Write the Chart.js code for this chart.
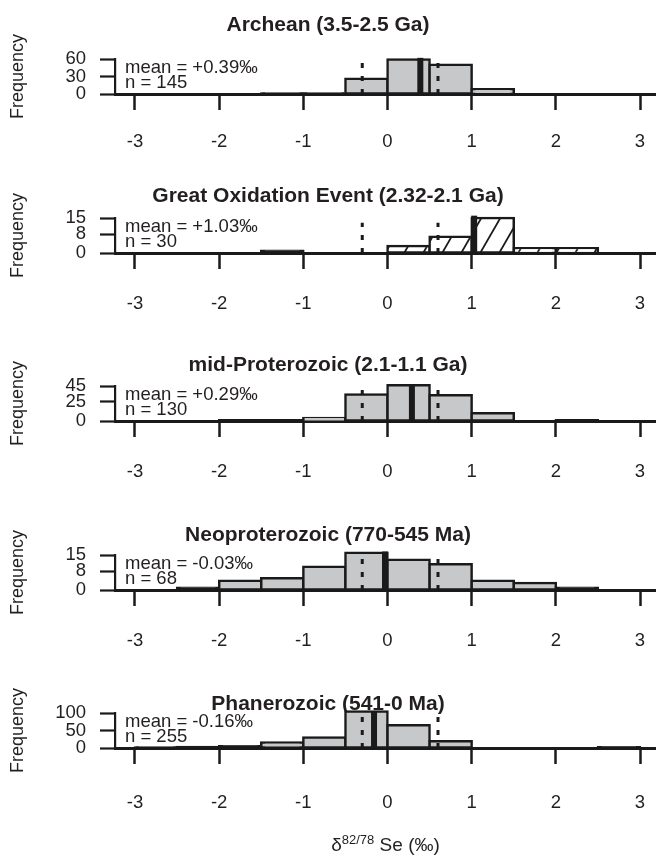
<!DOCTYPE html>
<html>
<head>
<meta charset="utf-8">
<script src="https://cdn.jsdelivr.net/npm/chart.js@4.4.0/dist/chart.umd.min.js"></script>
<style>
  body { margin: 0; background: #fff; }
  #wrap { position: relative; width: 656px; height: 861px; overflow: hidden; background: #fff; }
  #wrap canvas { position: absolute; left: 0; }
  #xlab { position: absolute; left: 115px; width: 541px; top: 832px; text-align: center;
          font: 19px "Liberation Sans", Arial, sans-serif; color: #231f20; }
  #xlab sup { font-size: 13px; }
</style>
</head>
<body>
<div id="wrap">
  <canvas id="c0"></canvas>
  <canvas id="c1"></canvas>
  <canvas id="c2"></canvas>
  <canvas id="c3"></canvas>
  <canvas id="c4"></canvas>
  <div id="xlab">δ<sup>82/78</sup> Se (‰)</div>
</div>
<script>
// histogram bins (left edges, width 0.5)
var binStarts = [-3.5, -3, -2.5, -2, -1.5, -1, -0.5, 0, 0.5, 1, 1.5, 2, 2.5, 3];
var xTickLabels = [-3, -2, -1, 0, 1, 2, 3];

var titles = ['Archean (3.5-2.5 Ga)', 'Great Oxidation Event (2.32-2.1 Ga)',
              'mid-Proterozoic (2.1-1.1 Ga)', 'Neoproterozoic (770-545 Ma)', 'Phanerozoic (541-0 Ma)'];

var archeanCounts   = [0, 0, 0, 0, 1, 1, 26, 59, 50, 8, 0, 0, 0, 0];
var goeCounts       = [0, 0, 0, 0, 1, 0, 0, 3, 7, 15, 2, 2, 0, 0];
var midProtCounts   = [0, 0, 0, 1, 1, 4, 34, 46, 33, 10, 0, 1, 0, 0];
var neoProtCounts   = [0, 0, 1, 4, 5, 10, 16, 13, 11, 4, 3, 1, 0, 0];
var phanerozCounts  = [0, 1, 3, 5, 16, 30, 104, 65, 19, 0, 0, 0, 2, 0];
var allCounts = [archeanCounts, goeCounts, midProtCounts, neoProtCounts, phanerozCounts];

var means = [0.39, 1.03, 0.29, -0.03, -0.16];
var sampleSizes = [145, 30, 130, 68, 255];
var yMidTicks = [30, 8, 25, 8, 50];
var yTopTicks = [60, 15, 45, 15, 100];
var meanLineTops = [62, 16, 47, 16.5, 105];

// dotted reference lines
var refLines = [-0.3, 0.6];
var refLineTops = [53, 13, 40, 13.5, 90];

// page layout (pixels)
var baselines = [94, 253, 421, 590, 748];
var titleGaps = [69, 57, 56, 55, 44];
var labelPads = [21, 24, 24, 24, 28];

var FONT = '"Liberation Sans", Arial, Helvetica, sans-serif';
var INK = '#1a1a1a';
var TXT = '#231f20';
var GREY = '#c7c8ca';

Chart.defaults.font.family = FONT;
Chart.defaults.color = TXT;

function hatchPattern() {
    var w = 19, h = 33;
    var c = document.createElement('canvas');
    c.width = w; c.height = h;
    var g = c.getContext('2d');
    g.fillStyle = '#fff';
    g.fillRect(0, 0, w, h);
    g.strokeStyle = INK;
    g.lineWidth = 1.8;
    [-w, 0, w].forEach(function (s) {
        g.beginPath();
        g.moveTo(s - w, 2 * h);
        g.lineTo(s + 2 * w, -h);
        g.stroke();
    });
    return g.createPattern(c, 'repeat');
}

var statsText = {
    id: 'statsText',
    afterDraw: function (chart) {
        var i = chart.options.plugins.statsText.panel;
        var ctx = chart.ctx, a = chart.chartArea;
        var m = means[i];
        ctx.save();
        ctx.font = '18.5px ' + FONT;
        ctx.fillStyle = TXT;
        ctx.textBaseline = 'middle';
        ctx.fillText('mean = ' + (m >= 0 ? '+' : '') + m.toFixed(2) + '‰', a.left + 10, a.bottom - 26);
        ctx.fillText('n = ' + sampleSizes[i], a.left + 10, a.bottom - 11.5);
        ctx.restore();
    }
};

function makePanel(i) {
    var last = (i === 4);
    var canvas = document.getElementById('c' + i);
    canvas.width = 656;
    canvas.height = last ? 200 : 160;
    canvas.style.top = (baselines[i] - 90) + 'px';
    var xh = canvas.height - 90;

    var padTop = 90 - titleGaps[i] - 12.6;
    var padBottom = 55 - padTop - 25.2;
    var fill = i === 1 ? hatchPattern() : GREY;

    var bars = allCounts[i].map(function (c, k) {
        return { x: binStarts[k] + 0.25, y: c };
    });

    var datasets = [{
        type: 'line',
        data: [{ x: means[i], y: 0 }, { x: means[i], y: meanLineTops[i] }],
        borderColor: INK, borderWidth: 6, pointRadius: 0, clip: false, order: 1
    }];
    refLines.forEach(function (v) {
        datasets.push({
            type: 'line',
            data: [{ x: v, y: 0 }, { x: v, y: refLineTops[i] }],
            borderColor: INK, borderWidth: 3, borderDash: [5, 8],
            pointRadius: 0, clip: false, order: 1
        });
    });
    datasets.push({
        type: 'bar',
        data: bars,
        // very short bars read as a thick dark line, as in the original
        backgroundColor: function (ctx) {
            var y = ctx.chart.scales.y;
            var h = y.getPixelForValue(0) - y.getPixelForValue(ctx.raw.y);
            return h < 2.5 ? INK : fill;
        },
        borderColor: INK,
        borderWidth: 2.5,
        borderSkipped: false,
        inflateAmount: 1.25,
        barPercentage: 1,
        categoryPercentage: 1,
        clip: { left: 0, top: 12, right: 0, bottom: 4 },
        order: 2
    });

    return new Chart(canvas, {
        type: 'bar',
        data: { datasets: datasets },
        options: {
            responsive: false,
            animation: false,
            devicePixelRatio: 1,
            layout: { padding: { top: padTop, left: 0, right: 0, bottom: 0 } },
            plugins: {
                legend: { display: false },
                tooltip: { enabled: false },
                title: {
                    display: true,
                    text: titles[i],
                    color: TXT,
                    font: { size: 21, weight: 'bold' },
                    padding: { top: 0, bottom: padBottom }
                },
                statsText: { panel: i }
            },
            scales: {
                x: {
                    type: 'linear',
                    min: -3.2376,
                    max: 3.19,
                    offset: false,
                    afterFit: function (s) {
                        s.height = xh;
                        s.paddingLeft = 0;
                        s.paddingRight = 0;
                    },
                    afterBuildTicks: function (s) {
                        s.ticks = xTickLabels.map(function (v) { return { value: v }; });
                    },
                    ticks: {
                        padding: labelPads[i],
                        font: { size: 18.5 },
                        color: TXT,
                        maxRotation: 0,
                        autoSkip: false,
                        callback: function (v) { return String(v); }
                    },
                    grid: {
                        offset: false,
                        drawOnChartArea: false,
                        tickLength: 16,
                        tickWidth: 2.5,
                        tickColor: INK
                    },
                    border: { display: true, color: INK, width: 3 }
                },
                y: {
                    min: 0,
                    max: yTopTicks[i],
                    afterFit: function (s) {
                        s.width = 115;
                        s.paddingTop = 0;
                        s.paddingBottom = 0;
                    },
                    afterBuildTicks: function (s) {
                        s.ticks = [0, yMidTicks[i], yTopTicks[i]].map(function (v) { return { value: v }; });
                    },
                    ticks: {
                        padding: 14,
                        font: { size: 18.5 },
                        color: TXT,
                        autoSkip: false
                    },
                    grid: {
                        drawOnChartArea: false,
                        tickLength: 15,
                        tickWidth: 2.2,
                        tickColor: INK
                    },
                    border: { display: true, color: INK, width: 2.2 },
                    title: {
                        display: true,
                        text: 'Frequency',
                        color: TXT,
                        font: { size: 18 },
                        padding: { top: 7, bottom: 0 }
                    }
                }
            }
        },
        plugins: [statsText]
    });
}

for (var i = 0; i < 5; i++) {
    makePanel(i);
}
</script>
</body>
</html>
